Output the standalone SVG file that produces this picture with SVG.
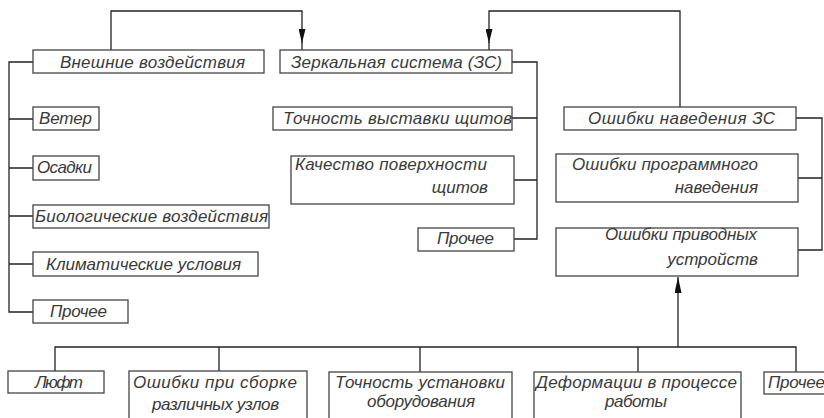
<svg xmlns="http://www.w3.org/2000/svg" width="824" height="418" viewBox="0 0 824 418">
<style>
.box{fill:#fff;stroke:#444;stroke-width:1.3}
.con{fill:none;stroke:#222;stroke-width:1.3}
text{font-family:"Liberation Sans","DejaVu Sans",sans-serif;font-style:italic;font-size:17px;fill:#3a3a3a}
.r{text-anchor:end}
</style>
<defs>
<marker id="ah" markerUnits="userSpaceOnUse" markerWidth="14" markerHeight="7" refX="14" refY="3.5" orient="auto" viewBox="0 0 14 7">
<path d="M0,0 L14,3.5 L0,7 Z" fill="#111"/>
</marker>
<marker id="ah2" markerUnits="userSpaceOnUse" markerWidth="16" markerHeight="7" refX="16" refY="3.5" orient="auto" viewBox="0 0 16 7">
<path d="M0,0 L16,3.5 L0,7 Z" fill="#111"/>
</marker>
</defs>
<rect width="824" height="418" fill="#fff"/>
<g id="connectors">
<path class="con" d="M111,50 V11 H302 V43" marker-end="url(#ah)"/>
<path class="con" d="M302,42 V50"/>
<path class="con" d="M680,107 V11 H489 V43" marker-end="url(#ah)"/>
<path class="con" d="M489,42 V50"/>
<path class="con" d="M33,62 H9 V312 H33 M9,119 H33 M9,168 H33 M9,216 H33 M9,264 H33"/>
<path class="con" d="M512,62 H537 V239 H514 M512,118 H537 M514,180 H537"/>
<path class="con" d="M796,118 H822 V250 H798 M798,178 H822"/>
<path class="con" d="M55,372 V347 H796 V372 M219,347 V372 M420,347 V372 M638,347 V372"/>
<path class="con" d="M678,347 V277" marker-end="url(#ah2)"/>
</g>
<g id="vneshnie"><rect class="box" x="33" y="50" width="231" height="23"/><text x="60" y="68" textLength="185" lengthAdjust="spacing">Внешние  воздействия</text></g>
<g id="zerkalnaya"><rect class="box" x="280" y="50" width="232" height="23"/><text x="291" y="68" textLength="211" lengthAdjust="spacing">Зеркальная  система  (ЗС)</text></g>
<g id="veter"><rect class="box" x="33" y="107" width="66" height="23"/><text x="39" y="124" textLength="53" lengthAdjust="spacing">Ветер</text></g>
<g id="osadki"><rect class="box" x="33" y="156" width="66" height="24"/><text x="37" y="173" textLength="55" lengthAdjust="spacing">Осадки</text></g>
<g id="bio"><rect class="box" x="33" y="205" width="236" height="23"/><text x="35" y="222" textLength="233" lengthAdjust="spacing">Биологические  воздействия</text></g>
<g id="klimat"><rect class="box" x="33" y="252" width="225" height="24"/><text x="46" y="270" textLength="195" lengthAdjust="spacing">Климатические  условия</text></g>
<g id="prochee1"><rect class="box" x="33" y="300" width="95" height="23"/><text x="50" y="317" textLength="57" lengthAdjust="spacing">Прочее</text></g>
<g id="tochnost_vyst"><rect class="box" x="273" y="107" width="239" height="23"/><text x="283" y="124" textLength="229" lengthAdjust="spacing">Точность  выставки  щитов</text></g>
<g id="kachestvo"><rect class="box" x="291" y="156" width="223" height="48"/><text x="295" y="170" textLength="192" lengthAdjust="spacing">Качество  поверхности</text><text class="r" x="488" y="193">щитов</text></g>
<g id="prochee2"><rect class="box" x="418" y="228" width="96" height="23"/><text x="437" y="244" textLength="57" lengthAdjust="spacing">Прочее</text></g>
<g id="oshibki_naved"><rect class="box" x="564" y="107" width="232" height="23"/><text x="588" y="124" textLength="187" lengthAdjust="spacing">Ошибки  наведения  ЗС</text></g>
<g id="oshibki_prog"><rect class="box" x="556" y="154" width="242" height="48"/><text x="572" y="170" textLength="186" lengthAdjust="spacing">Ошибки  программного</text><text class="r" x="758" y="193">наведения</text></g>
<g id="oshibki_priv"><rect class="box" x="556" y="228" width="242" height="48"/><text x="605" y="240" textLength="152" lengthAdjust="spacing">Ошибки  приводных</text><text class="r" x="758" y="265">устройств</text></g>
<g id="lyuft"><rect class="box" x="8" y="371" width="96" height="22"/><text x="35" y="388" textLength="48" lengthAdjust="spacing">Люфт</text></g>
<g id="sborka"><rect class="box" x="129" y="371" width="178" height="52"/><text x="133" y="388" textLength="164" lengthAdjust="spacing">Ошибки  при  сборке</text><text x="152" y="410" textLength="127" lengthAdjust="spacing">различных  узлов</text></g>
<g id="ustanovka"><rect class="box" x="329" y="372" width="183" height="52"/><text x="335" y="388" textLength="170" lengthAdjust="spacing">Точность  установки</text><text x="367" y="407" textLength="108" lengthAdjust="spacing">оборудования</text></g>
<g id="deformacii"><rect class="box" x="534" y="372" width="207" height="52"/><text x="536" y="388" textLength="201" lengthAdjust="spacing">Деформации  в  процессе</text><text x="605" y="407" textLength="62" lengthAdjust="spacing">работы</text></g>
<g id="prochee3"><rect class="box" x="764" y="372" width="70" height="22"/><text x="768" y="388" textLength="57" lengthAdjust="spacing">Прочее</text></g>
</svg>
